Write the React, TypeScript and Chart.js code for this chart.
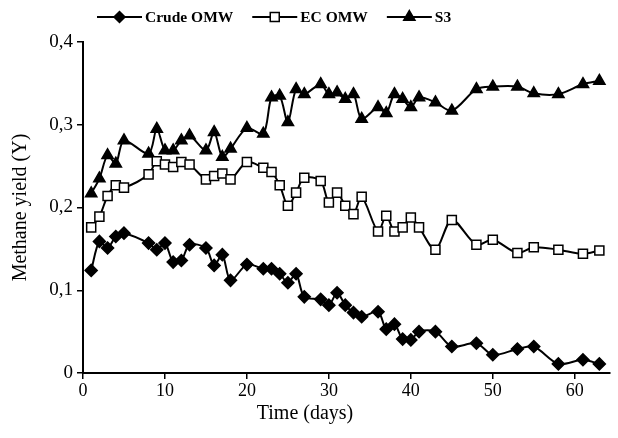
import React, { useEffect, useRef } from 'react';
import { Chart, registerables } from 'chart.js';
Chart.register(...registerables);

const days = [1, 2, 3, 4, 5, 8, 9, 10, 11, 12, 13, 15, 16, 17, 18, 20, 22, 23, 24, 25, 26, 27, 29, 30, 31, 32, 33, 34, 36, 37, 38, 39, 40, 41, 43, 45, 48, 50, 53, 55, 58, 61, 63];
const crudeOMW = [0.124, 0.159, 0.151, 0.165, 0.169, 0.157, 0.149, 0.157, 0.134, 0.136, 0.155, 0.151, 0.13, 0.143, 0.112, 0.131, 0.126, 0.126, 0.12, 0.109, 0.12, 0.092, 0.089, 0.082, 0.097, 0.082, 0.073, 0.068, 0.074, 0.053, 0.059, 0.041, 0.04, 0.05, 0.05, 0.032, 0.036, 0.022, 0.029, 0.032, 0.011, 0.016, 0.011];
const ecOMW = [0.176, 0.189, 0.214, 0.227, 0.224, 0.24, 0.256, 0.252, 0.249, 0.255, 0.252, 0.234, 0.238, 0.241, 0.234, 0.255, 0.248, 0.243, 0.227, 0.202, 0.218, 0.236, 0.232, 0.206, 0.218, 0.202, 0.192, 0.213, 0.171, 0.19, 0.171, 0.176, 0.188, 0.176, 0.149, 0.185, 0.155, 0.161, 0.145, 0.152, 0.149, 0.144, 0.148];
const s3 = [0.217, 0.235, 0.263, 0.253, 0.281, 0.265, 0.295, 0.269, 0.269, 0.281, 0.287, 0.269, 0.291, 0.261, 0.271, 0.296, 0.289, 0.333, 0.335, 0.303, 0.343, 0.337, 0.349, 0.337, 0.339, 0.331, 0.337, 0.307, 0.321, 0.314, 0.337, 0.331, 0.321, 0.333, 0.327, 0.317, 0.343, 0.346, 0.346, 0.338, 0.337, 0.349, 0.353];
const seriesLabels = ['Crude OMW', 'EC OMW', 'S3'];
const xTickValues = [0, 10, 20, 30, 40, 50, 60];
const yTickValues = [0, 0.1, 0.2, 0.3, 0.4];
const xTitle = 'Time (days)';
const yTitle = 'Methane yield (Y)';

const FONT = "'Liberation Serif', 'Times New Roman', serif";

function drawMarker(ctx: CanvasRenderingContext2D, style: string, x: number, y: number) {
  ctx.save();
  ctx.lineWidth = 1.5;
  ctx.strokeStyle = '#000';
  ctx.beginPath();
  if (style === 'rectRot') {
    const r = 5.5;
    ctx.moveTo(x, y - r); ctx.lineTo(x + r, y); ctx.lineTo(x, y + r); ctx.lineTo(x - r, y); ctx.closePath();
    ctx.fillStyle = '#000';
  } else if (style === 'rect') {
    const s = 4.5;
    ctx.rect(x - s, y - s, 2 * s, 2 * s);
    ctx.fillStyle = '#fff';
  } else {
    const r = 6.5;
    ctx.moveTo(x, y - r); ctx.lineTo(x + r * 0.866, y + r * 0.5); ctx.lineTo(x - r * 0.866, y + r * 0.5); ctx.closePath();
    ctx.fillStyle = '#000';
  }
  ctx.fill();
  ctx.stroke();
  ctx.restore();
}

const legendPlugin = {
  id: 'customLegend',
  afterDraw(chart: any) {
    const ctx = chart.ctx as CanvasRenderingContext2D;
    ctx.save();
    ctx.font = `bold 15.5px ${FONT}`;
    ctx.textBaseline = 'middle';
    ctx.textAlign = 'left';
    const y = 17;
    let x = 97;
    chart.data.datasets.forEach((ds: any) => {
      const lineLen = 45;
      ctx.strokeStyle = '#000';
      ctx.lineWidth = 2;
      ctx.beginPath();
      ctx.moveTo(x, y);
      ctx.lineTo(x + lineLen, y);
      ctx.stroke();
      drawMarker(ctx, ds.pointStyle, x + lineLen / 2, y);
      ctx.fillStyle = '#000';
      ctx.fillText(ds.label, x + lineLen + 3, y + 1);
      const w = ctx.measureText(ds.label).width;
      x += lineLen + 3 + w + 19;
    });
    // x-axis title
    ctx.font = `20px ${FONT}`;
    ctx.textAlign = 'center';
    ctx.fillText(xTitle, 305, 414);
    ctx.restore();
  },
};

export default function App() {
  const ref = useRef<HTMLCanvasElement>(null);
  useEffect(() => {
    const canvas = ref.current!;
    const mk = (vals: number[]) => days.map((d, i) => ({ x: d, y: vals[i] }));
    const base = {
      borderColor: '#000',
      borderWidth: 2,
      pointBorderColor: '#000',
      pointBorderWidth: 1.5,
      tension: 0.3,
      clip: false as any,
    };
    const chart = new Chart(canvas, {
      type: 'line',
      data: {
        datasets: [
          { ...base, label: seriesLabels[0], data: mk(crudeOMW), pointStyle: 'rectRot', pointRadius: 6, pointBackgroundColor: '#000' },
          { ...base, label: seriesLabels[1], data: mk(ecOMW), pointStyle: 'rect', pointRadius: 6.4, pointBackgroundColor: '#fff' },
          { ...base, label: seriesLabels[2], data: mk(s3), pointStyle: 'triangle', pointRadius: 6.5, pointBackgroundColor: '#000' },
        ],
      },
      options: {
        animation: false,
        responsive: false,
        maintainAspectRatio: false,
        layout: { padding: { top: 42, right: 0, left: 0, bottom: 0 } },
        plugins: { legend: { display: false }, tooltip: { enabled: false } },
        scales: {
          x: {
            type: 'linear',
            min: 0,
            max: 64.3,
            afterBuildTicks: (axis: any) => { axis.ticks = xTickValues.map((v) => ({ value: v })); },
            afterFit: (scale: any) => { scale.height = 65; },
            border: { display: true, color: '#000', width: 2 },
            grid: { display: true, drawOnChartArea: false, drawTicks: true, tickLength: 6, color: '#000', lineWidth: 1.5 },
            ticks: { color: '#000', padding: 1, maxRotation: 0, font: { family: FONT, size: 18 }, callback: (v: any) => String(v) },
            title: { display: false },
          },
          y: {
            type: 'linear',
            min: 0,
            max: 0.4,
            afterBuildTicks: (axis: any) => { axis.ticks = yTickValues.map((v) => ({ value: v })); },
            afterFit: (scale: any) => { scale.width = 83; },
            border: { display: true, color: '#000', width: 2 },
            grid: { display: true, drawOnChartArea: false, drawTicks: true, tickLength: 6, color: '#000', lineWidth: 1.5 },
            ticks: {
              color: '#000',
              padding: 4,
              font: { family: FONT, size: 19 },
              callback: (v: any) => (v === 0 ? '0' : Number(v).toFixed(1).replace('.', ',')),
            },
            title: { display: true, text: yTitle, color: '#000', font: { family: FONT, size: 20 }, padding: { top: 9, bottom: 0 } },
          },
        },
      },
      plugins: [legendPlugin],
    });
    return () => chart.destroy();
  }, []);
  return (
    <div style={{ position: 'absolute', left: 0, top: 0, width: 618, height: 438, background: '#fff' }}>
      <canvas ref={ref} width={618} height={438} style={{ width: 618, height: 438, display: 'block' }} />
    </div>
  );
}
